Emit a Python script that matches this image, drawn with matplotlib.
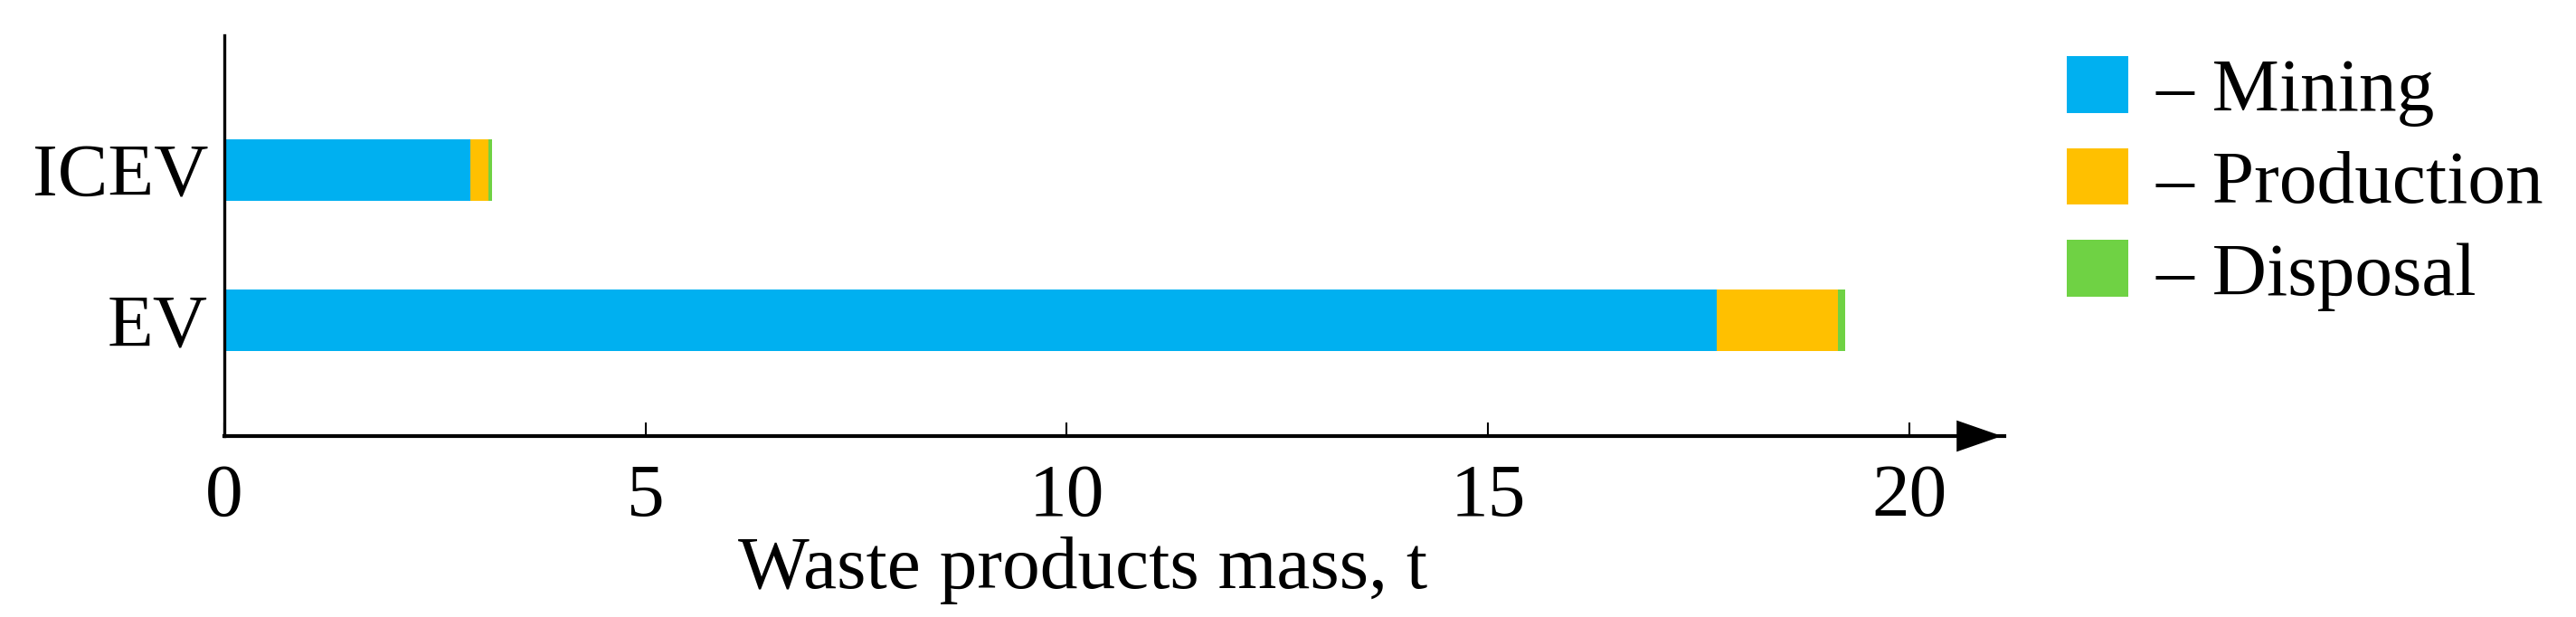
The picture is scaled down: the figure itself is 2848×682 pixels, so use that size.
import matplotlib
matplotlib.use("Agg")
import matplotlib.pyplot as plt
from matplotlib.patches import FancyArrowPatch

categories = ["EV", "ICEV"]
series_names = ["Mining", "Production", "Disposal"]
mining = [17.72, 2.92]
production = [1.43, 0.21]
disposal = [0.09, 0.05]
colors = ["#00B0F0", "#FFC000", "#6FD244"]
xticks = [0, 5, 10, 15, 20]
xlabel = "Waste products mass, t"

plt.rcParams["font.family"] = ["Liberation Serif", "DejaVu Serif"]
plt.rcParams["font.size"] = 60

W, H, DPI = 2848, 682, 100
fig = plt.figure(figsize=(W / DPI, H / DPI), dpi=DPI)
ax = fig.add_axes([248 / W, 1 - 482 / H, (2216 - 248) / W, (482 - 39) / H])

ypos = list(range(len(categories)))
left = [0] * len(categories)
for vals, name, col in zip([mining, production, disposal], series_names, colors):
    ax.barh(ypos, vals, left=left, height=0.41, color=col, label="\u2013 " + name, linewidth=0)
    left = [l + v for l, v in zip(left, vals)]

ax.set_xlim(0, 21.13)
ax.set_ylim(-0.775, 1.9)
ax.set_yticks(ypos)
ax.set_yticklabels(categories)
ax.set_xticks(xticks)
ax.set_xticklabels([str(t) for t in xticks])

for s in ["top", "right"]:
    ax.spines[s].set_visible(False)
ax.spines["left"].set_linewidth(2.4)
ax.spines["bottom"].set_linewidth(3.0)
ax.tick_params(axis="x", direction="in", length=11, width=1.5, pad=22, labelsize=60)
ax.tick_params(axis="y", length=0, pad=13, labelsize=60)

# arrow head at the end of x axis
arr = FancyArrowPatch((0.9, 0), (1.0, 0), transform=ax.transAxes,
                      arrowstyle="-|>,head_length=0.36,head_width=0.125",
                      mutation_scale=100, color="black", linewidth=0, clip_on=False)
ax.add_patch(arr)

ax.set_xlabel(xlabel, fontsize=60, labelpad=0)
ax.xaxis.set_label_coords((1197 - 248) / (2216 - 248), -0.25)

leg = ax.legend(loc="upper left", bbox_to_anchor=(2285 / W, 1 - 62 / H),
                bbox_transform=fig.transFigure, frameon=False, fontsize=60,
                handlelength=0.82, handleheight=0.78, handletextpad=0.36,
                labelspacing=0.28, borderpad=0, borderaxespad=0)

fig.savefig("out.png", dpi=DPI)
